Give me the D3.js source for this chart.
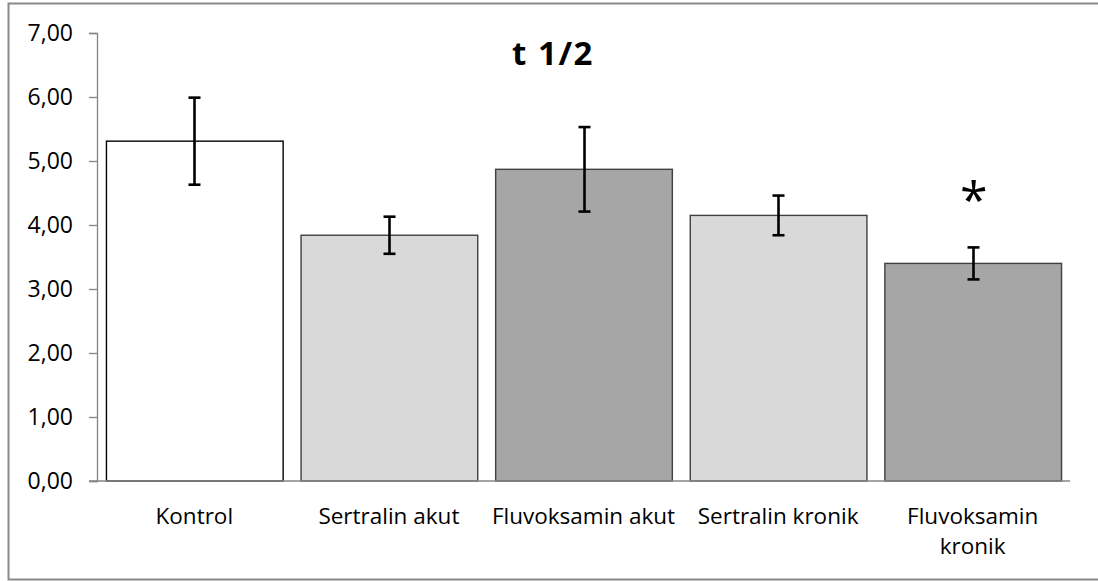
<!DOCTYPE html>
<html>
<head>
<meta charset="utf-8">
<script src="https://cdn.jsdelivr.net/npm/d3@7"></script>
<style>
  html, body { margin: 0; padding: 0; background: #fff; }
  svg { display: block; }
  text { font-family: "Open Sans", "Noto Sans", sans-serif; fill: #000; }
</style>
</head>
<body>
<svg id="chart" width="1098" height="581"></svg>
<script>
// Half-life (t 1/2) per treatment group, mean ± error
const categories = ["Kontrol", "Sertralin akut", "Fluvoksamin akut", "Sertralin kronik", "Fluvoksamin kronik"];
const means      = [5.31, 3.84, 4.87, 4.15, 3.40];
const errors     = [0.68, 0.29, 0.66, 0.31, 0.25];
const fills      = ["#ffffff", "#d9d9d9", "#a6a6a6", "#d9d9d9", "#a6a6a6"];
const strokes    = ["#000000", "#404040", "#404040", "#404040", "#404040"];
const marks      = ["", "", "", "", "*"];
const yTicks     = [0, 1, 2, 3, 4, 5, 6, 7];
const title      = "t 1/2";

const svg = d3.select("#chart");
const plot = { left: 97, right: 1070, top: 33, bottom: 481 };

// outer chart frame
svg.append("rect")
  .attr("x", 8.5).attr("y", 3.5)
  .attr("width", 1100).attr("height", 576)
  .attr("fill", "#fff")
  .attr("stroke", "#898989").attr("stroke-width", 2);

const x = d3.scaleBand()
  .domain(categories)
  .range([plot.left, plot.right])
  .paddingInner(0.092)
  .paddingOuter(0.046);

const y = d3.scaleLinear().domain([0, 7]).range([plot.bottom, plot.top]);

// bars
svg.append("g").selectAll("rect")
  .data(categories)
  .join("rect")
  .attr("x", d => x(d) + 0.5)
  .attr("y", (d, i) => y(means[i]))
  .attr("width", x.bandwidth())
  .attr("height", (d, i) => y(0) - y(means[i]))
  .attr("fill", (d, i) => fills[i])
  .attr("stroke", (d, i) => strokes[i])
  .attr("stroke-width", 1.4);

// y axis
const yAxis = d3.axisLeft(y)
  .tickValues(yTicks)
  .tickSize(8)
  .tickPadding(16)
  .tickFormat(d => d3.format(".2f")(d).replace(".", ","));
const gy = svg.append("g").attr("transform", `translate(${plot.left},0)`).call(yAxis);
gy.attr("font-size", null).attr("font-family", null);
gy.select(".domain").attr("stroke", "#868686").attr("stroke-width", 1.3);
gy.selectAll(".tick line").attr("stroke", "#868686").attr("stroke-width", 1.3);
gy.selectAll(".tick text")
  .style("font-size", "23px")
  .attr("fill", "#000");

// x axis baseline
const xAxis = d3.axisBottom(x).tickSize(0).tickFormat("");
const gx = svg.append("g").attr("transform", `translate(0,${plot.bottom})`).call(xAxis);
gx.select(".domain").attr("stroke", "#868686").attr("stroke-width", 1.3)
  .attr("d", `M${plot.left - 8},0H${plot.right}`);

// category labels, wrapped to the band step
const step = x.step();
const labels = svg.append("g");
categories.forEach(c => {
  const cx = x(c) + x.bandwidth() / 2;
  const t = labels.append("text")
    .attr("x", cx).attr("y", 524)
    .attr("text-anchor", "middle")
    .style("font-size", "22.5px");
  const words = c.split(" ");
  let line = [];
  let tspan = t.append("tspan").attr("x", cx).attr("dy", 0);
  words.forEach(w => {
    line.push(w);
    tspan.text(line.join(" "));
    if (tspan.node().getComputedTextLength() > step - 2 && line.length > 1) {
      line.pop();
      tspan.text(line.join(" "));
      line = [w];
      tspan = t.append("tspan").attr("x", cx).attr("dy", 30).text(w);
    }
  });
});

// error bars
const eb = svg.append("g").attr("stroke", "#000").attr("stroke-width", 2.6);
categories.forEach((c, i) => {
  const cx = Math.round(x(c) + x.bandwidth() / 2) + 0.5;
  const hi = y(means[i] + errors[i]), lo = y(means[i] - errors[i]);
  eb.append("line").attr("x1", cx).attr("x2", cx).attr("y1", hi).attr("y2", lo);
  eb.append("line").attr("x1", cx - 6).attr("x2", cx + 6).attr("y1", hi).attr("y2", hi);
  eb.append("line").attr("x1", cx - 6).attr("x2", cx + 6).attr("y1", lo).attr("y2", lo);
});

// significance markers
categories.forEach((c, i) => {
  if (!marks[i]) return;
  svg.append("text")
    .attr("x", x(c) + x.bandwidth() / 2 + 1)
    .attr("y", y(means[i] + errors[i]) - 29)
    .attr("text-anchor", "middle")
    .style("font-size", "50px")
    .text(marks[i]);
});

// title
svg.append("text")
  .attr("x", 553).attr("y", 65)
  .attr("text-anchor", "middle")
  .style("font-size", "33px")
  .style("font-weight", "bold")
  .style("letter-spacing", "1.5px")
  .text(title);
</script>
</body>
</html>
